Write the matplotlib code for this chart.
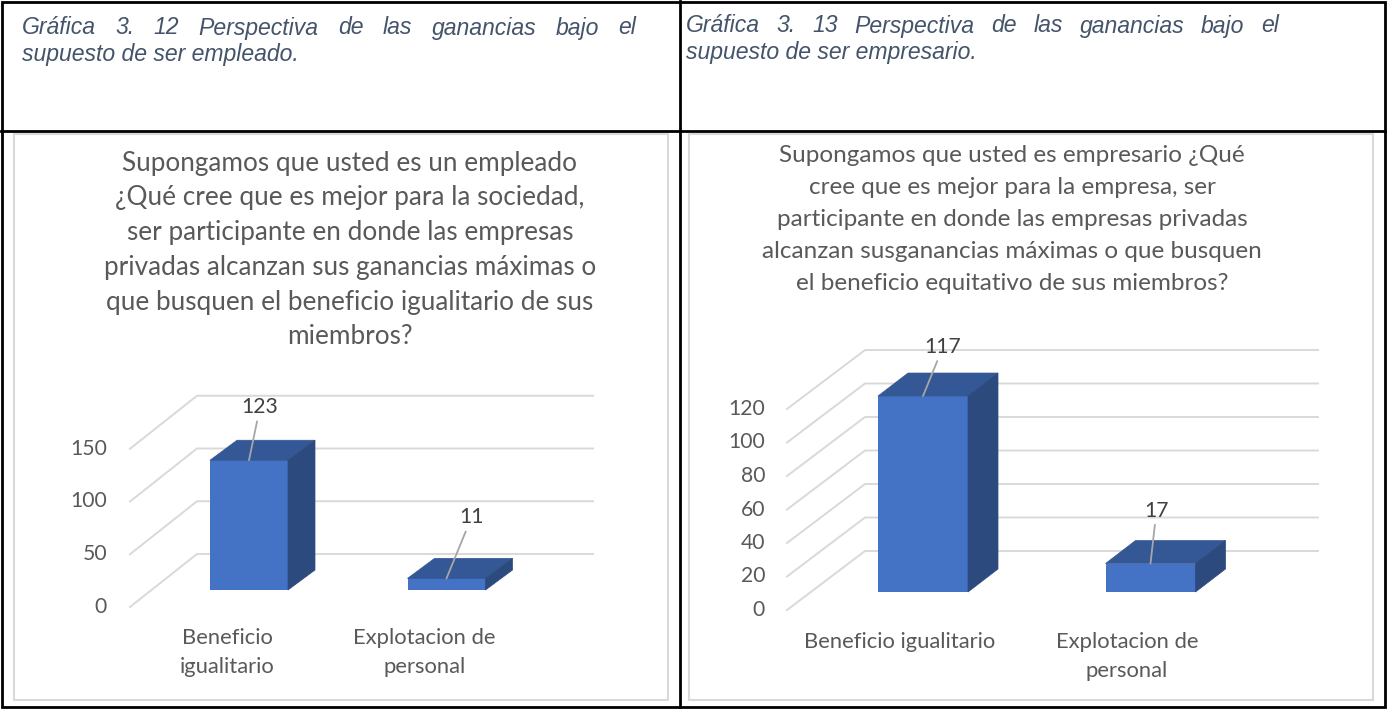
import matplotlib.pyplot as plt
from matplotlib.patches import Polygon, Rectangle

W, H = 1387, 709

# datos
cats_left = ['Beneficio\nigualitario', 'Explotacion de\npersonal']
vals_left = [123, 11]
ticks_left = [0, 50, 100, 150]

cats_right = ['Beneficio igualitario', 'Explotacion de\npersonal']
vals_right = [117, 17]
ticks_right = [0, 20, 40, 60, 80, 100, 120]

title_left = ['Supongamos que usted es un empleado',
              '¿Qué cree que es mejor para la sociedad,',
              'ser participante en donde las empresas',
              'privadas alcanzan sus ganancias máximas o',
              'que busquen el beneficio igualitario de sus',
              'miembros?']
title_right = ['Supongamos que usted es empresario ¿Qué',
               'cree que es mejor para la empresa, ser',
               'participante en donde las empresas privadas',
               'alcanzan susganancias máximas o que busquen',
               'el beneficio equitativo de sus miembros?']

caption_left = ['Gráfica 3. 12 Perspectiva de las ganancias bajo el',
                'supuesto de ser empleado.']
caption_right = ['Gráfica 3. 13 Perspectiva de las ganancias bajo el',
                 'supuesto de ser empresario.']

FRONT, TOP, SIDE = '#4472C4', '#335895', '#2C4A7E'
GRID = '#D9D9D9'
TXT = '#595959'
CAP = '#44546A'
FONT = 'Lato'

# layout en pixeles de cada grafica
left_cfg = dict(cat0=249, step=197.5, zero=590, ppu=1.055, bar_w=78, depth=(27, 20),
                back_x0=197, back_x1=593, back_dy=36, front_x=130, front_dy=-17,
                cat_dx=-22, tick_pad=23, label_off=[(11, 53), (25, 61)], cat_pad=21)
right_cfg = dict(cat0=923, step=227.5, zero=592, ppu=1.675, bar_w=90, depth=(30, 23),
                 back_x0=865, back_x1=1318, back_dy=41, front_x=787, front_dy=-18,
                 cat_dx=-23.5, tick_pad=22, label_off=[(20, 49), (6, 53)], cat_pad=22)

fig = plt.figure(figsize=(W / 100, H / 100), dpi=100)
fig.patch.set_facecolor('white')

bg = fig.add_axes([0, 0, 1, 1])
bg.set_xlim(0, W)
bg.set_ylim(H, 0)
bg.axis('off')

# tabla
bg.add_patch(Rectangle((1.5, 1.5), W - 4, H - 3.5, fill=False, ec='black', lw=2))
bg.plot([1, W - 2], [131, 131], color='black', lw=2)
bg.plot([680, 680], [1, H - 2], color='black', lw=2)
bg.add_patch(Rectangle((14, 134), 654, 566, fill=False, ec=GRID, lw=1.5))
bg.add_patch(Rectangle((689, 134), 684, 566, fill=False, ec=GRID, lw=1.5))

renderer = fig.canvas.get_renderer()


def justify(line, x0, x1, y, **kw):
    arts = [bg.text(0, y, w, ha='left', va='center', **kw) for w in line.split()]
    widths = [a.get_window_extent(renderer).width for a in arts]
    gap = (x1 - x0 - sum(widths)) / (len(arts) - 1)
    x = x0
    for a, w in zip(arts, widths):
        a.set_x(x)
        x += w + gap


cap_kw = dict(family='Liberation Sans', style='italic', fontsize=16.6, color=CAP)
justify(caption_left[0], 22, 636, 28, **cap_kw)
bg.text(22, 54, caption_left[1], ha='left', va='center', **cap_kw)
justify(caption_right[0], 686, 1279, 26, **cap_kw)
bg.text(686, 52, caption_right[1], ha='left', va='center', **cap_kw)

for i, line in enumerate(title_left):
    bg.text(350, 163 + i * 34.8, line, ha='center', va='center', family=FONT,
            fontsize=18.8, color=TXT)
for i, line in enumerate(title_right):
    bg.text(1012, 155 + i * 32, line, ha='center', va='center', family=FONT,
            fontsize=17.5, color=TXT)


def draw_chart(cfg, cats, vals, ticks):
    sx, sy = cfg['step'], cfg['ppu']
    ax = fig.add_axes([0, 0, 1, 1])
    ax.set_xlim(-cfg['cat0'] / sx, (W - cfg['cat0']) / sx)
    ax.set_ylim((cfg['zero'] - H) / sy, cfg['zero'] / sy)
    ax.axis('off')
    ax.patch.set_alpha(0)

    bx0 = (cfg['back_x0'] - cfg['cat0']) / sx
    bx1 = (cfg['back_x1'] - cfg['cat0']) / sx
    by = cfg['back_dy'] / sy
    fx = (cfg['front_x'] - cfg['cat0']) / sx
    fy = cfg['front_dy'] / sy
    for t in ticks:
        ax.plot([fx, bx0, bx1], [t + fy, t + by, t + by], color=GRID, lw=1.4, zorder=1)
        ax.text(fx - cfg['tick_pad'] / sx, t + fy, str(t), ha='right', va='center',
                family=FONT, fontsize=15.2, color=TXT)

    xs = list(range(len(vals)))
    bw = cfg['bar_w'] / sx
    ddx, ddy = cfg['depth'][0] / sx, cfg['depth'][1] / sy
    ax.bar(xs, vals, width=bw, color=FRONT, zorder=3)
    for x, v in zip(xs, vals):
        xl, xr = x - bw / 2, x + bw / 2
        ax.add_patch(Polygon([(xl, v), (xr, v), (xr + ddx, v + ddy), (xl + ddx, v + ddy)],
                             closed=True, fc=TOP, ec=TOP, lw=0.5, zorder=3))
        ax.add_patch(Polygon([(xr, 0), (xr, v), (xr + ddx, v + ddy), (xr + ddx, ddy)],
                             closed=True, fc=SIDE, ec=SIDE, lw=0.5, zorder=3))

    for x, v, off in zip(xs, vals, cfg['label_off']):
        ax.annotate(str(v), xy=(x, v), xytext=off, textcoords='offset pixels',
                    ha='center', va='center', family=FONT, fontsize=15.2, color='#404040',
                    arrowprops=dict(arrowstyle='-', color='#A6A6A6', lw=1.3,
                                    shrinkA=1, shrinkB=0), zorder=4)

    for x, c in zip(xs, cats):
        ax.text(x + cfg['cat_dx'] / sx, fy - cfg['cat_pad'] / sy, c, ha='center', va='top',
                family=FONT, fontsize=15.8, color=TXT, linespacing=1.55)


draw_chart(left_cfg, cats_left, vals_left, ticks_left)
draw_chart(right_cfg, cats_right, vals_right, ticks_right)

fig.savefig('out.png', dpi=100, facecolor='white')
